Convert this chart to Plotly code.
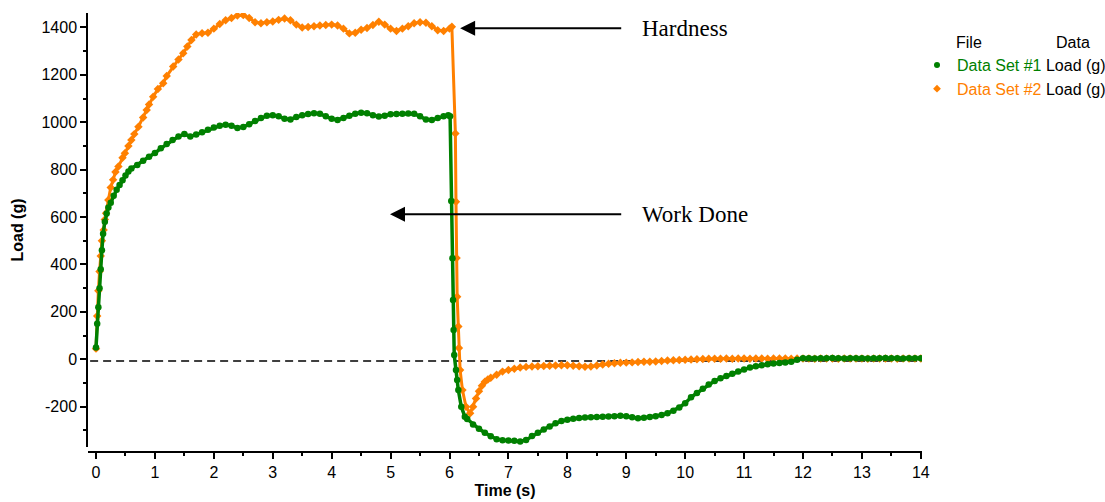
import plotly.graph_objects as go

# ---------------- data ----------------
t1 = [0.00, 0.02, 0.04, 0.06, 0.08, 0.10, 0.12, 0.15, 0.18, 0.21, 0.25, 0.30, 0.35, 0.40, 0.45,
      0.50, 0.55, 0.60, 0.70, 0.80, 0.90, 1.00, 1.10, 1.20, 1.30, 1.40, 1.50, 1.60, 1.70, 1.80,
      1.90, 2.00, 2.10, 2.20, 2.30, 2.40, 2.50, 2.60, 2.70, 2.80, 2.90, 3.00, 3.10, 3.20, 3.30,
      3.40, 3.50, 3.60, 3.70, 3.80, 3.90, 4.00, 4.10, 4.20, 4.30, 4.40, 4.50, 4.60, 4.70, 4.80,
      4.90, 5.00, 5.10, 5.20, 5.30, 5.40, 5.50, 5.60, 5.70, 5.80, 5.90, 5.98, 6.01, 6.03, 6.05,
      6.06, 6.07, 6.08, 6.11, 6.13, 6.15, 6.20, 6.26, 6.30, 6.40, 6.50, 6.60, 6.70, 6.80, 6.90,
      7.00, 7.10, 7.20, 7.30, 7.40, 7.50, 7.60, 7.70, 7.80, 7.90, 8.00, 8.10, 8.20, 8.30, 8.40,
      8.50, 8.60, 8.70, 8.80, 8.90, 9.00, 9.10, 9.20, 9.30, 9.40, 9.50, 9.60, 9.70, 9.80, 9.90,
      10.00, 10.10, 10.20, 10.30, 10.40, 10.50, 10.60, 10.70, 10.80, 10.90, 11.00, 11.10, 11.20,
      11.30, 11.40, 11.50, 11.60, 11.70, 11.80, 11.90, 12.00, 12.10, 12.20, 12.30, 12.40, 12.50,
      12.60, 12.70, 12.80, 12.90, 13.00, 13.10, 13.20, 13.30, 13.40, 13.50, 13.60, 13.70, 13.80,
      13.90, 14.00]
load1 = [50, 150, 220, 300, 380, 460, 530, 580, 615, 640, 660, 690, 715, 735, 755,
         775, 792, 805, 820, 838, 855, 870, 890, 908, 925, 940, 950, 940, 948, 958,
         968, 978, 985, 990, 985, 976, 980, 992, 1005, 1018, 1028, 1030, 1025, 1015, 1012,
         1022, 1030, 1035, 1038, 1036, 1025, 1015, 1010, 1018, 1028, 1036, 1040, 1038, 1030, 1024,
         1028, 1034, 1035, 1036, 1037, 1036, 1025, 1012, 1010, 1018, 1025, 1030, 1025, 668, 426,
         250, 124, 18, -45, -87, -130, -200, -242, -252, -275, -293, -310, -325, -337, -342,
         -343, -344, -347, -340, -324, -310, -296, -283, -270, -260, -255, -251, -248, -246, -245,
         -243, -242, -241, -240, -238, -240, -245, -249, -247, -243, -240, -235, -228, -217, -203,
         -185, -160, -142, -124, -106, -92, -80, -70, -61, -52, -43, -35, -29,
         -25, -21, -18, -16, -14, -10, -2, 4, 4, 3, 4, 4, 5,
         4, 3, 4, 4, 4, 3, 4, 4, 5, 4, 4, 3, 4,
         4, 4]

t2 = [0.00, 0.02, 0.04, 0.06, 0.08, 0.10, 0.13, 0.15, 0.17, 0.21, 0.25, 0.29, 0.33, 0.38, 0.45,
      0.49, 0.55, 0.60, 0.65, 0.72, 0.80, 0.86, 0.90, 0.97, 1.05, 1.14, 1.20, 1.31, 1.40, 1.48,
      1.55, 1.62, 1.70, 1.80, 1.90, 2.00, 2.10, 2.20, 2.30, 2.40, 2.50, 2.60, 2.70, 2.80, 2.90,
      3.00, 3.10, 3.20, 3.30, 3.40, 3.50, 3.60, 3.70, 3.80, 3.90, 4.00, 4.10, 4.20, 4.30, 4.40,
      4.50, 4.60, 4.70, 4.80, 4.90, 5.00, 5.10, 5.20, 5.30, 5.40, 5.50, 5.60, 5.70, 5.80, 5.90,
      6.00, 6.04, 6.10, 6.11, 6.12, 6.13, 6.15, 6.16, 6.18, 6.22, 6.28, 6.35, 6.40, 6.45, 6.50,
      6.55, 6.60, 6.65, 6.70, 6.80, 6.90, 7.00, 7.10, 7.20, 7.30, 7.40, 7.50, 7.60, 7.70, 7.80,
      7.90, 8.00, 8.10, 8.20, 8.30, 8.40, 8.50, 8.60, 8.70, 8.80, 8.90, 9.00, 9.10, 9.20, 9.30,
      9.40, 9.50, 9.60, 9.70, 9.80, 9.90, 10.00, 10.10, 10.20, 10.30, 10.40, 10.50, 10.60, 10.70,
      10.80, 10.90, 11.00, 11.10, 11.20, 11.30, 11.40, 11.50, 11.60, 11.70, 11.80, 11.90, 12.00,
      12.10, 12.20, 12.30, 12.40, 12.50, 12.60, 12.70, 12.80, 12.90, 13.00, 13.10, 13.20, 13.30,
      13.40, 13.50, 13.60, 13.70, 13.80, 13.90, 14.00]
load2 = [45, 183, 289, 370, 436, 500, 546, 590, 616, 672, 725, 757, 790, 813, 850,
         869, 900, 925, 950, 981, 1020, 1052, 1075, 1108, 1140, 1165, 1195, 1235, 1265, 1291,
         1320, 1347, 1370, 1376, 1378, 1395, 1415, 1430, 1440, 1450, 1452, 1440, 1422, 1418, 1422,
         1425, 1432, 1438, 1430, 1412, 1400, 1402, 1405, 1408, 1410, 1412, 1408, 1395, 1375, 1378,
         1390, 1398, 1410, 1424, 1412, 1395, 1385, 1395, 1405, 1418, 1422, 1420, 1405, 1388, 1385,
         1395, 1403, 953, 665, 427, 264, 138, 48, -45, -130, -200, -228, -200, -165, -135,
         -112, -95, -85, -78, -65, -52, -45, -40, -35, -32, -30, -29, -28, -27, -26,
         -25, -25, -27, -29, -31, -30, -26, -22, -19, -17, -15, -14, -13, -11, -10,
         -10, -9, -7, -5, -4, -3, -2, -1, 0, 1, 2, 2, 2, 3,
         2, 3, 3, 2, 3, 3, 2, 3, 3, 3, 2, 3, 3,
         3, 2, 3, 3, 3, 2, 3, 3, 3, 3, 2, 3, 3,
         3, 3, 2, 3, 3, 3, 3]

x_ticks = list(range(0, 15))
x_ticktext = [str(v) for v in x_ticks]
y_ticks = [-200, 0, 200, 400, 600, 800, 1000, 1200, 1400]
y_ticktext = [str(v) for v in y_ticks]  # plain hyphen minus, as in the reference
baseline = -7

series_names = ["Data Set #1", "Data Set #2"]
data_label = "Load (g)"
GREEN = "#008000"
ORANGE = "#ff8000"

fig = go.Figure()

# orange first (green is drawn on top)
fig.add_trace(go.Scatter(x=t2, y=load2, mode="lines+markers", showlegend=False,
                         line=dict(color=ORANGE, width=3),
                         marker=dict(symbol="diamond", size=6.5, color=ORANGE)))
fig.add_trace(go.Scatter(x=t1, y=load1, mode="lines+markers", showlegend=False,
                         line=dict(color=GREEN, width=3.5),
                         marker=dict(symbol="circle", size=6.5, color=GREEN)))

# legend entries (markers only)
for name, col, sym in [(series_names[0], GREEN, "circle"), (series_names[1], ORANGE, "diamond")]:
    fig.add_trace(go.Scatter(x=[None], y=[None], mode="markers",
                             name=f"<span style='color:{col}'>{name}</span><span style='color:black'> {data_label}</span>",
                             marker=dict(symbol=sym, size=6, color=col)))

fig.add_shape(type="line", x0=-0.1, x1=14.02, y0=baseline, y1=baseline, layer="below",
              line=dict(color="black", width=1.5, dash="8px,5px"))

axis_font = dict(family="Liberation Sans, Arial, sans-serif", size=16, color="black")

fig.update_layout(
    width=1105, height=502,
    margin=dict(l=88, r=183, t=13, b=50, autoexpand=False),
    paper_bgcolor="white", plot_bgcolor="white",
    font=axis_font,
    xaxis=dict(range=[-0.136, 14.02], tickvals=x_ticks, ticktext=x_ticktext,
               showgrid=False, zeroline=False, automargin=False,
               showline=True, linecolor="black", linewidth=1.5,
               ticks="outside", ticklen=6, tickwidth=1.5, tickcolor="black",
               minor=dict(dtick=0.5, tick0=0, ticks="outside", ticklen=3, tickwidth=1.5, tickcolor="black"),
               anchor="free", position=0,
               title=dict(text="<b>Time (s)</b>", font=dict(size=16), standoff=4)),
    yaxis=dict(range=[-370, 1461], tickvals=y_ticks, ticktext=y_ticktext,
               showgrid=False, zeroline=False, automargin=False,
               domain=[5 / 439, 1],
               showline=True, linecolor="black", linewidth=1.5,
               ticks="outside", ticklen=6, tickwidth=1.5, tickcolor="black",
               minor=dict(dtick=100, tick0=0, ticks="outside", ticklen=3, tickwidth=1.5, tickcolor="black"),
               title=dict(text="<b>Load (g)</b>", font=dict(size=16), standoff=14)),
    legend=dict(x=(917 - 88) / 834, y=(452 - 48) / 439, xanchor="left", yanchor="top",
                bgcolor="rgba(0,0,0,0)", font=dict(size=16, color="black"),
                itemwidth=30, tracegroupgap=0),
    showlegend=True,
)

serif = dict(family="Liberation Serif, Times New Roman, serif", size=23, color="black")

# arrows
fig.add_annotation(x=6.18, y=1397, ax=8.94, ay=1397, xref="x", yref="y", axref="x", ayref="y",
                   text="", showarrow=True, arrowhead=2, arrowsize=1.5, arrowwidth=2, arrowcolor="black")
fig.add_annotation(x=4.99, y=612, ax=8.94, ay=612, xref="x", yref="y", axref="x", ayref="y",
                   text="", showarrow=True, arrowhead=2, arrowsize=1.5, arrowwidth=2, arrowcolor="black")
fig.add_annotation(x=9.29, y=1397, xref="x", yref="y", text="Hardness", showarrow=False,
                   xanchor="left", yanchor="middle", xshift=-3, font=serif)
fig.add_annotation(x=9.29, y=612, xref="x", yref="y", text="Work Done", showarrow=False,
                   xanchor="left", yanchor="middle", xshift=-3, font=serif)

# legend headers
fig.add_annotation(x=(957 - 88) / 834, y=(452 - 42) / 439, xref="paper", yref="paper",
                   text="File", showarrow=False, xanchor="left", yanchor="middle", xshift=-3,
                   font=dict(size=16, color="black"))
fig.add_annotation(x=(1057 - 88) / 834, y=(452 - 42) / 439, xref="paper", yref="paper",
                   text="Data", showarrow=False, xanchor="left", yanchor="middle", xshift=-3,
                   font=dict(size=16, color="black"))

fig.write_html("out.html", config={"displayModeBar": False},
               post_script="document.body.style.margin='0';document.body.style.overflow='hidden';")
